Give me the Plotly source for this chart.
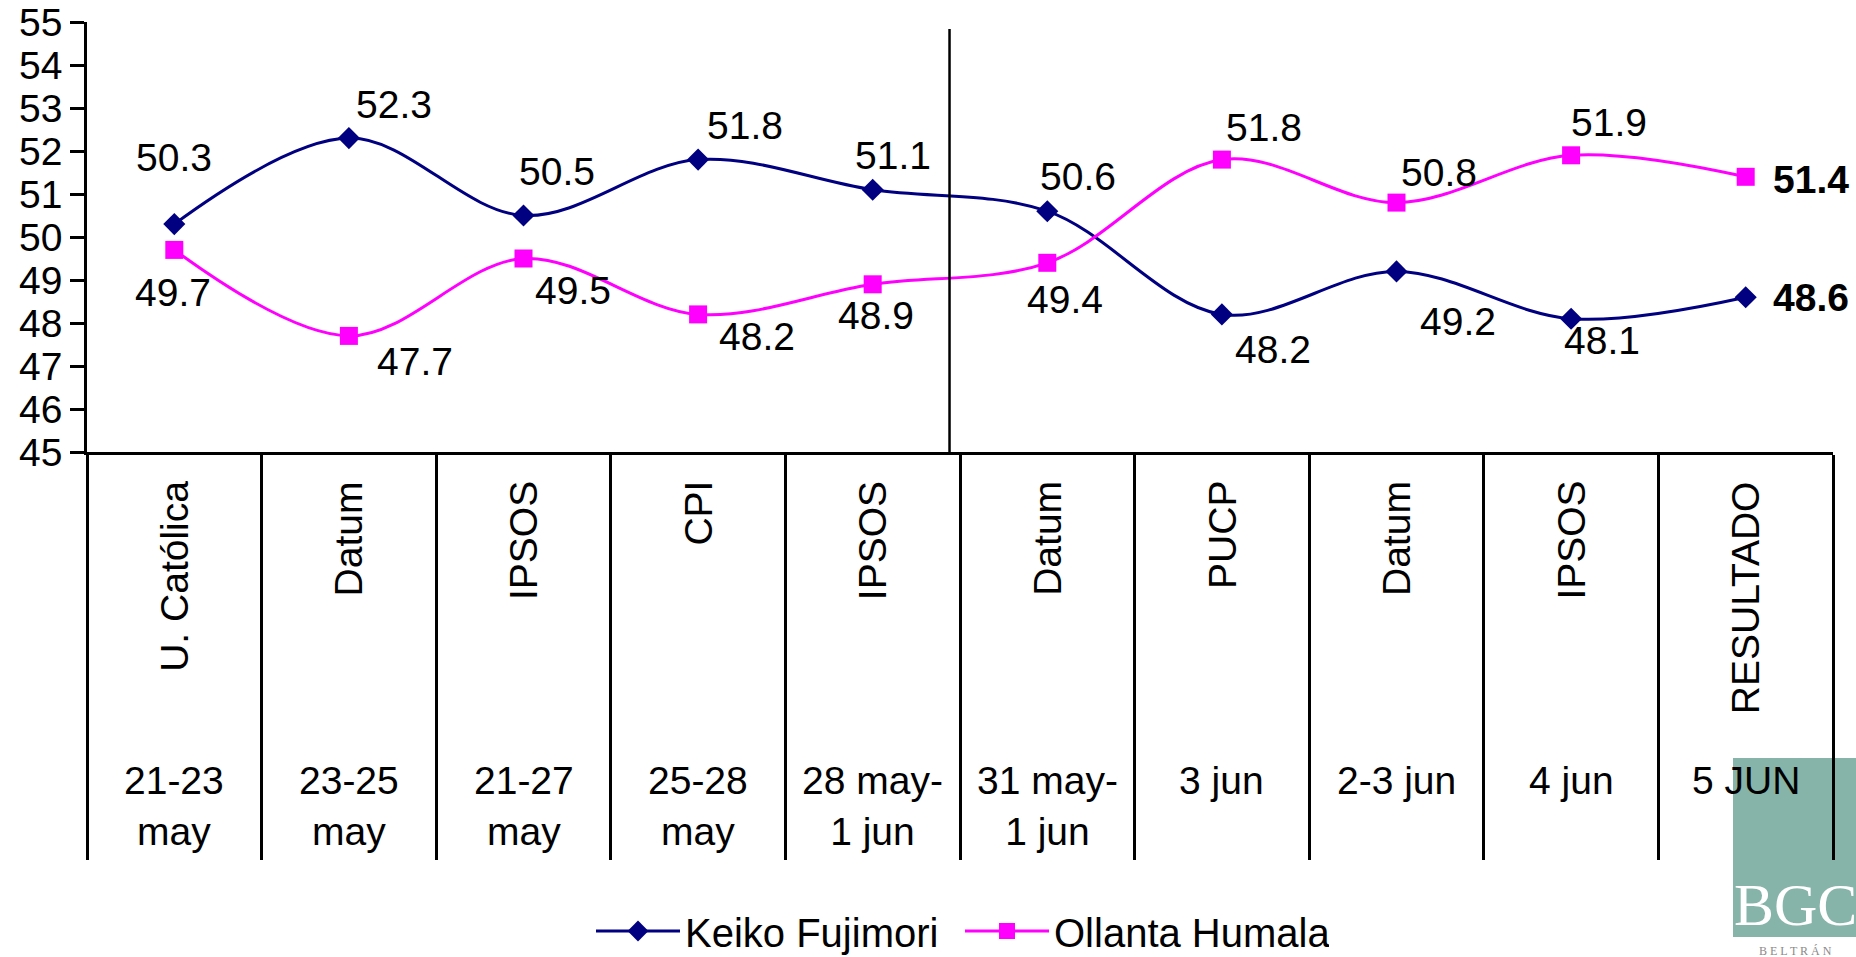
import plotly.graph_objects as go

# ---------------- data ----------------
pollsters = ["U. Católica", "Datum", "IPSOS", "CPI", "IPSOS", "Datum", "PUCP", "Datum", "IPSOS", "RESULTADO"]
dates = ["21-23<br>may", "23-25<br>may", "21-27<br>may", "25-28<br>may", "28 may-<br>1 jun",
         "31 may-<br>1 jun", "3 jun", "2-3 jun", "4 jun", "5 JUN"]
keiko = [50.3, 52.3, 50.5, 51.8, 51.1, 50.6, 48.2, 49.2, 48.1, 48.6]
ollanta = [49.7, 47.7, 49.5, 48.2, 48.9, 49.4, 51.8, 50.8, 51.9, 51.4]
y_ticks = list(range(45, 56))
series_names = ["Keiko Fujimori", "Ollanta Humala"]

# ---------------- style / layout constants ----------------
W, H = 1856, 957
PL, PR, PT, PB = 87, 1833, 22, 452   # plot box in screen pixels
ML, MR, MT, MB = PL, W - PR, PT, H - PB
PLOT_H = PB - PT
PLOT_W = PR - PL
FONT = "Liberation Sans, Arial, sans-serif"
FS = 39
NAVY = "#000080"
MAGENTA = "#FF00FF"
TEAL = "#86B4A8"
DIVIDER_X = 4.44

# label offsets (pixels: dx right, dy down) for data labels
keiko_off = [(0, -67), (45, -34), (33, -44), (47, -34), (20, -34), (31, -35), (51, 35), (61, 50), (31, 22), (65, 0)]
ollanta_off = [(-1, 43), (66, 26), (49, 32), (59, 22), (3, 31), (18, 37), (42, -32), (42, -30), (38, -33), (65, 3)]


def py(pix):
    """screen pixel row -> paper y"""
    return (PB - pix) / PLOT_H


def px(pix):
    """screen pixel column -> paper x"""
    return (pix - PL) / PLOT_W


x = list(range(len(pollsters)))

fig = go.Figure()
fig.add_trace(go.Scatter(
    x=x, y=keiko, name=series_names[0], mode="lines+markers",
    line=dict(color=NAVY, width=3, shape="spline", smoothing=1),
    marker=dict(symbol="diamond", size=17, color=NAVY),
))
fig.add_trace(go.Scatter(
    x=x, y=ollanta, name=series_names[1], mode="lines+markers",
    line=dict(color=MAGENTA, width=3, shape="spline", smoothing=1),
    marker=dict(symbol="square", size=18, color=MAGENTA),
))

ann = []
n = len(pollsters)
for i in range(n):
    last = i == n - 1
    for vals, offs in ((keiko, keiko_off), (ollanta, ollanta_off)):
        dx, dy = offs[i]
        txt = f"{vals[i]:.1f}"
        if last:
            txt = f"<b>{txt}</b>"
        ann.append(dict(x=i, y=vals[i], xref="x", yref="y", text=txt, showarrow=False,
                        xshift=dx, yshift=-dy, font=dict(family=FONT, size=FS, color="black")))
    # pollster names (rotated)
    ann.append(dict(x=i, y=py(479), xref="x", yref="paper", text=pollsters[i], showarrow=False,
                    textangle=-90, xanchor="center", yanchor="top",
                    font=dict(family=FONT, size=FS, color="black")))
    # dates
    ann.append(dict(x=i, y=py(757), xref="x", yref="paper", text=dates[i], showarrow=False,
                    xanchor="center", yanchor="top", align="center",
                    font=dict(family=FONT, size=FS, color="black")))

# logo text
ann.append(dict(x=px(1795), y=py(905), xref="paper", yref="paper", text="BGC", showarrow=False,
                xanchor="center", yanchor="middle",
                font=dict(family="Liberation Serif, Times New Roman, serif", size=60, color="white")))
ann.append(dict(x=px(1795), y=py(951), xref="paper", yref="paper", text="B E L T R Á N", showarrow=False,
                xanchor="center", yanchor="middle",
                font=dict(family="Liberation Serif, Times New Roman, serif", size=12, color="#8a8a8a")))

shapes = [
    dict(type="rect", xref="paper", yref="paper", x0=px(1733), x1=px(1870), y0=py(758), y1=py(937),
         fillcolor=TEAL, line=dict(width=0), layer="below"),
    dict(type="line", xref="x", yref="y", x0=DIVIDER_X, x1=DIVIDER_X, y0=54.84, y1=44.86,
         line=dict(color="black", width=2.5)),
]

fig.update_layout(
    width=W, height=H, autosize=False,
    margin=dict(l=ML, r=MR, t=MT, b=MB, pad=0, autoexpand=False),
    paper_bgcolor="white", plot_bgcolor="white",
    showlegend=True,
    legend=dict(orientation="h", x=0.5, xanchor="center",
                yref="container", y=(H - 931) / H, yanchor="middle",
                font=dict(family=FONT, size=40, color="black"), itemwidth=84,
                entrywidth=270, entrywidthmode="pixels",
                bgcolor="rgba(0,0,0,0)"),
    annotations=ann, shapes=shapes,
    font=dict(family=FONT, size=FS, color="black"),
)
fig.update_xaxes(range=[-0.5, n - 0.5], showgrid=False, zeroline=False,
                 showline=True, linecolor="black", linewidth=2.5,
                 tickmode="array", tickvals=[i - 0.5 for i in range(n + 1)],
                 ticks="outside", ticklen=405, tickwidth=2.5, tickcolor="black",
                 showticklabels=False)
fig.update_yaxes(range=[45, 55], tickmode="array", tickvals=y_ticks, showgrid=False, zeroline=False,
                 showline=True, linecolor="black", linewidth=2.5,
                 ticks="outside", ticklen=14, tickwidth=2.5, tickcolor="black",
                 ticklabeloverflow="allow",
                 tickfont=dict(family=FONT, size=FS, color="black"))

fig.write_html(
    "out.html",
    config={"displayModeBar": False},
    post_script="document.body.style.margin='0';document.body.style.overflow='hidden';",
)
